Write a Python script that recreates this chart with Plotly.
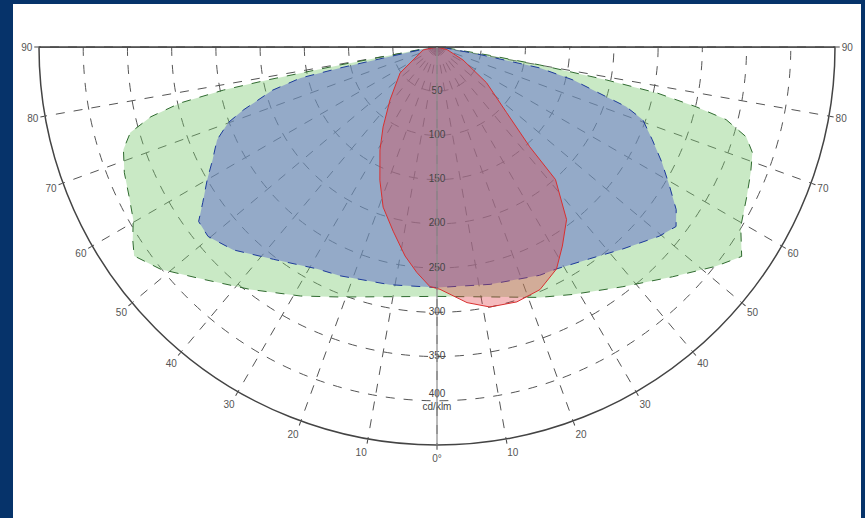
import plotly.graph_objects as go

# Luminous intensity (cd/klm) vs gamma angle (deg); negative = left half
green_angles = [-90, -85, -80, -79.5, -79.0, -78.6, -77.7, -76.3, -74.4, -71.9, -68.1, -64.1, -60.4,
                -57.7, -55.4, -51.2, -45.5, -37.6, -28.7, -21.1, 0, 22.3, 28.7, 37.8, 45.7, 51.8,
                55.5, 59.4, 64.2, 68.2, 71.5, 73.8, 75.9, 77.0, 78.2, 79.0, 80.1, 81, 85, 90]
green_values = [0, 10, 50, 111, 195, 246, 297, 333, 360, 373, 381, 387, 395,
                407, 416, 401, 374, 346, 321, 303, 282, 306, 319, 343, 372, 401,
                418, 399, 389, 382, 376, 364, 337, 301, 254, 195, 118, 60, 10, 0]

blue_angles = [-90, -85, -78.5, -77.8, -77.2, -75.3, -72.0, -70.1, -67.1, -63.3, -60.0, -56.4, -53.8,
               -50.4, -45.1, -37.6, -28.3, -23.0, -11.2, 0, 12.6, 24.2, 28.3, 35.7, 42.5, 49.6,
               53.1, 55.8, 59.0, 62.8, 66.7, 70.5, 72.5, 73.6, 76.4, 78.5, 80, 85, 90]
blue_values = [0, 8, 55, 112, 158, 192, 230, 251, 270, 284, 300, 318, 334,
               336, 325, 303, 285, 281, 274, 272, 275, 283, 285, 295, 310, 330,
               338, 327, 307, 286, 265, 247, 224, 200, 158, 118, 50, 8, 0]

red_angles = [-90, -78, -54.9, -41.6, -34.0, -29.0, -23.2, -18.6, -13.4, -8.7, -5.1, -1.7, 0.7,
              6.7, 11.5, 17.4, 23.0, 28.3, 32.2, 36.9, 41.8, 42.9, 46.7, 54.2, 63.4, 75, 90]
red_values = [0, 16, 51, 80, 109, 133, 164, 191, 214, 239, 256, 271, 274,
              291, 300, 302, 298, 285, 266, 244, 201, 154, 108, 69, 33, 12, 0]

radial_ticks = [50, 100, 150, 200, 250, 300, 350, 400]
radial_labels = ["50", "100", "150", "200", "250", "300", "350", "400<br>cd/klm"]
angle_ticks = [-90, -80, -70, -60, -50, -40, -30, -20, -10, 0, 10, 20, 30, 40, 50, 60, 70, 80, 90]
angle_labels = ["90", "80", "70", "60", "50", "40", "30", "20", "10", "0°",
                "10", "20", "30", "40", "50", "60", "70", "80", "90"]
r_max = 450

W, H = 865, 518
fig = go.Figure()

fig.add_trace(go.Scatterpolar(r=green_values, theta=green_angles, mode="lines", fill="toself",
                              fillcolor="rgba(120,200,110,0.40)",
                              line=dict(color="#2f6a2f", width=1, dash="dash")))
fig.add_trace(go.Scatterpolar(r=blue_values, theta=blue_angles, mode="lines", fill="toself",
                              fillcolor="rgba(103,118,202,0.55)",
                              line=dict(color="#1d3a9a", width=1, dash="dash")))
fig.add_trace(go.Scatterpolar(r=red_values, theta=red_angles, mode="lines", fill="toself",
                              fillcolor="rgba(225,60,70,0.35)",
                              line=dict(color="#d83030", width=1)))
# top horizontal diameter
fig.add_trace(go.Scatterpolar(r=[r_max, 0, r_max], theta=[-90, 0, 90], mode="lines",
                              line=dict(color="#555555", width=1.5)))
# radial labels along the 0° line
fig.add_trace(go.Scatterpolar(r=radial_ticks, theta=[0] * len(radial_ticks), mode="text",
                              text=radial_labels, textposition="middle center",
                              textfont=dict(family="Liberation Sans", size=10, color="#444444")))

fig.update_layout(
    width=W, height=H,
    margin=dict(l=0, r=0, t=0, b=0),
    paper_bgcolor="white",
    showlegend=False,
    hovermode=False,
    polar=dict(
        domain=dict(x=[38 / W, 836 / W], y=[1 - 445 / H, 1 - 47 / H]),
        sector=[180, 360],
        bgcolor="white",
        radialaxis=dict(range=[0, r_max], tickvals=radial_ticks + [r_max], showticklabels=False,
                        ticks="", showline=True, linecolor="#8a8a8a", linewidth=1.2, angle=270,
                        gridcolor="#555555", gridwidth=0.8, griddash="dash"),
        angularaxis=dict(rotation=270, direction="counterclockwise", thetaunit="degrees",
                         tickmode="array", tickvals=[a + 360 for a in angle_ticks],
                         ticktext=angle_labels,
                         tickfont=dict(family="Liberation Sans", size=10, color="#555555"),
                         ticks="outside", ticklen=4, tickcolor="#444444",
                         showline=True, linecolor="#444444", linewidth=1.5,
                         gridcolor="#555555", gridwidth=0.8, griddash="dash"),
    ),
    shapes=[
        dict(type="rect", xref="paper", yref="paper", x0=0, x1=13 / W, y0=0, y1=1,
             fillcolor="#06336a", line=dict(width=0), layer="above"),
        dict(type="rect", xref="paper", yref="paper", x0=861 / W, x1=1, y0=0, y1=1,
             fillcolor="#06336a", line=dict(width=0), layer="above"),
        dict(type="rect", xref="paper", yref="paper", x0=0, x1=1, y0=1 - 4 / H, y1=1,
             fillcolor="#06336a", line=dict(width=0), layer="above"),
    ],
)

fig.write_html("out.html", config={"displayModeBar": False},
               post_script="document.body.style.margin='0px';")
